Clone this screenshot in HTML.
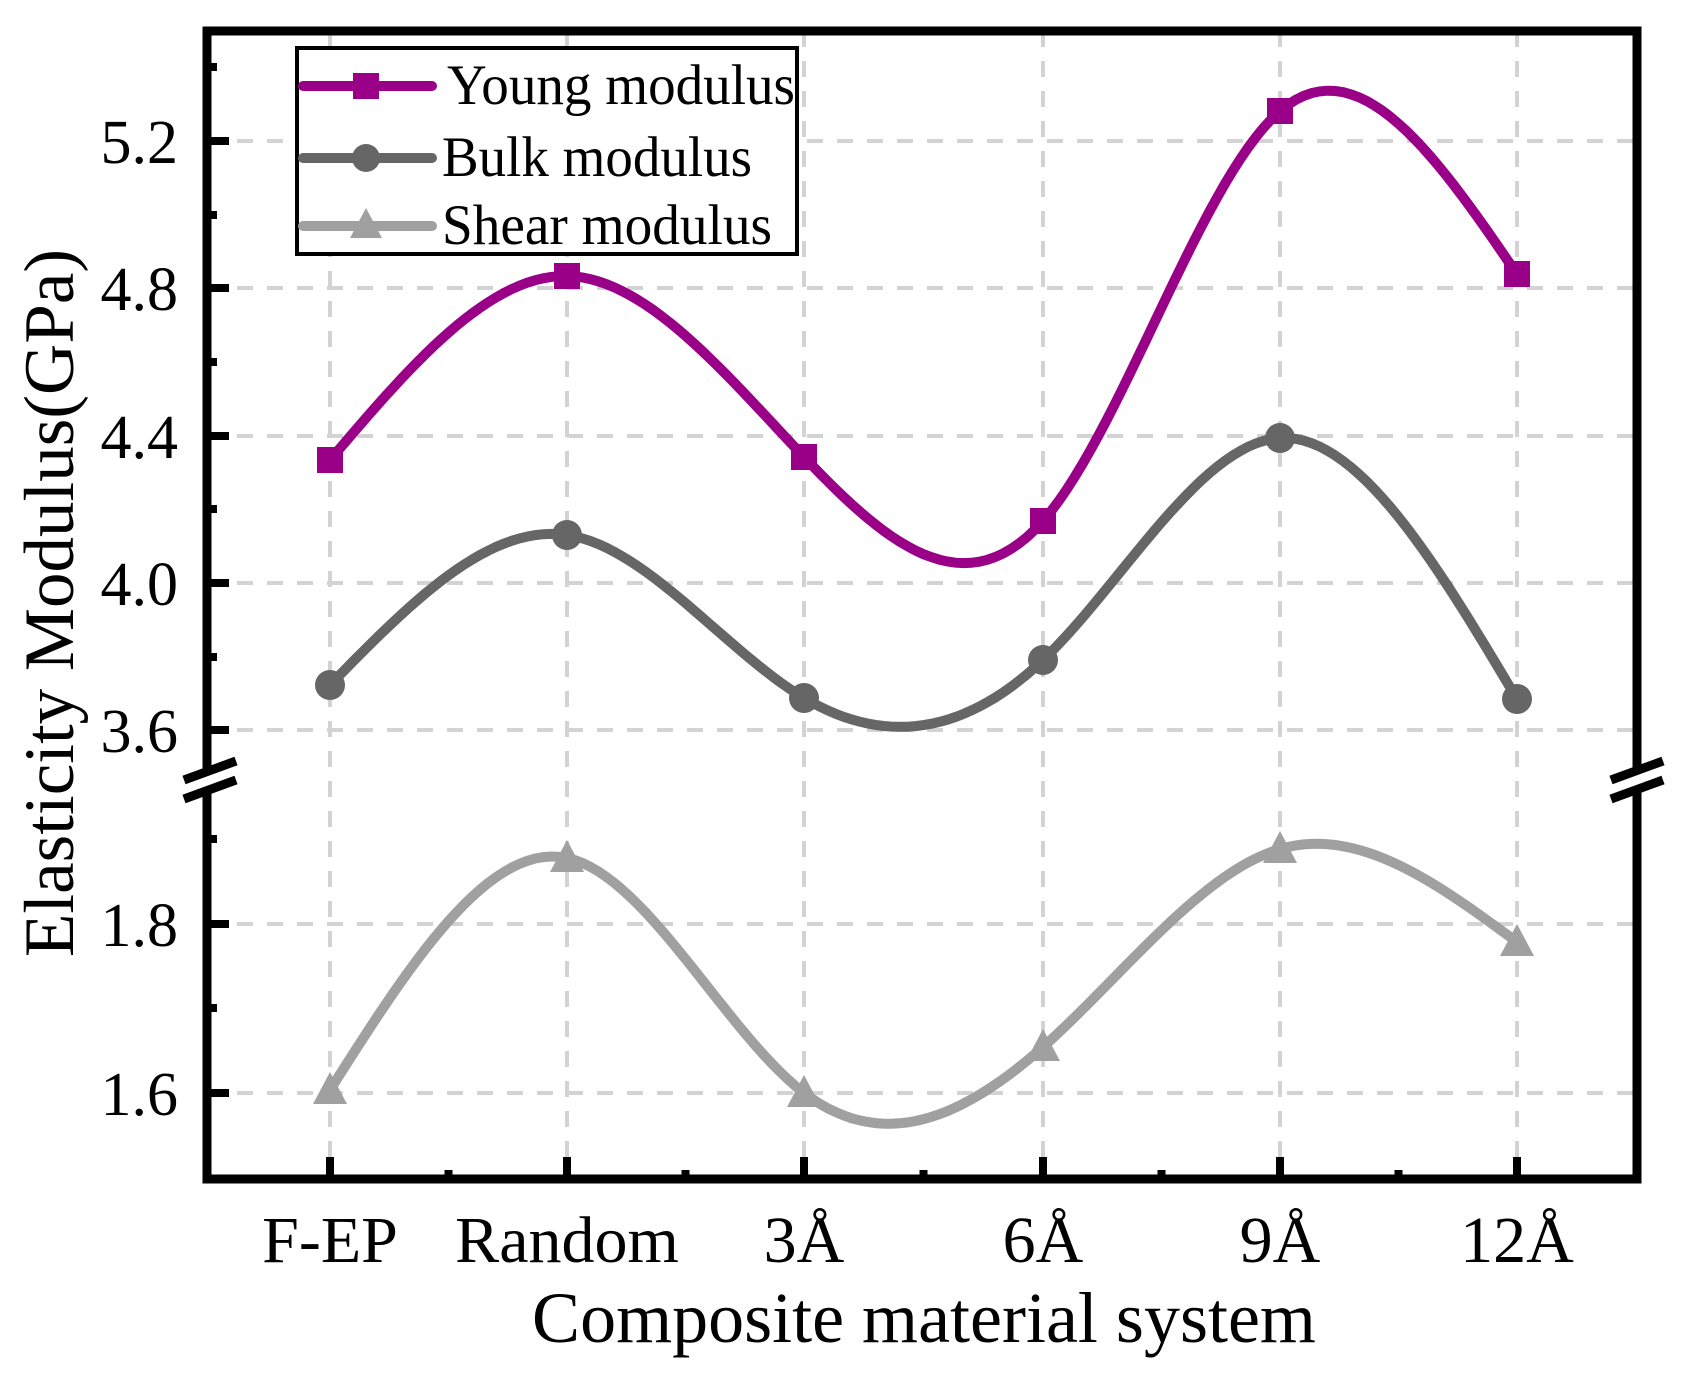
<!DOCTYPE html><html><head><style>body{margin:0;background:#fff}svg{display:block}text{font-family:"Liberation Serif",serif;fill:#000}</style></head><body>
<svg id="s" width="1685" height="1377" viewBox="0 0 1685 1377" xmlns="http://www.w3.org/2000/svg">
<rect width="1685" height="1377" fill="#fff"/>
<g stroke="#d3d3d3" stroke-width="4" stroke-dasharray="16,14" fill="none">
<path d="M207 141H1637M207 288H1637M207 436H1637M207 583H1637M207 730H1637M207 924H1637M207 1093H1637"/>
<path d="M330 31V1179M567 31V1179M804 31V1179M1043 31V1179M1280 31V1179M1517 31V1179"/>
</g>
<g id="curves"></g>
<rect x="207" y="31" width="1430" height="1148" fill="none" stroke="#000" stroke-width="9"/>
<g stroke="#000" stroke-width="8" id="ticks"></g>
<g>
<rect x="180" y="768" width="60" height="22" fill="#fff" transform="rotate(-20 210 779)"/>
<rect x="1610" y="768" width="60" height="22" fill="#fff" transform="rotate(-20 1640 779)"/>
<g stroke="#000" stroke-width="9"><line x1="184" y1="780" x2="236" y2="761"/><line x1="184" y1="799" x2="236" y2="780"/>
<line x1="1611" y1="780" x2="1663" y2="761"/><line x1="1611" y1="799" x2="1663" y2="780"/></g>
</g>
<g font-size="62" text-anchor="end">
<text x="178" y="163">5.2</text><text x="178" y="310">4.8</text><text x="178" y="458">4.4</text><text x="178" y="605">4.0</text><text x="178" y="752">3.6</text><text x="178" y="946">1.8</text><text x="178" y="1115">1.6</text>
</g>
<g font-size="66" text-anchor="middle">
<text x="330" y="1262">F-EP</text><text x="567" y="1262">Random</text><text x="804" y="1262">3Å</text><text x="1043" y="1262">6Å</text><text x="1280" y="1262">9Å</text><text x="1517" y="1262">12Å</text>
</g>
<text x="924" y="1342" font-size="72" text-anchor="middle">Composite material system</text>
<text transform="translate(73 603) rotate(-90)" font-size="71" text-anchor="middle">Elasticity Modulus(GPa)</text>
<rect x="297" y="48" width="500" height="206" fill="#fff" stroke="#000" stroke-width="4"/>
<g stroke-width="10" stroke-linecap="round">
<line x1="303" y1="86" x2="432" y2="86" stroke="#990087"/><rect x="353" y="73" width="26" height="26" fill="#990087"/>
<line x1="303" y1="158" x2="432" y2="158" stroke="#666"/><circle cx="366" cy="158" r="14" fill="#666"/>
<line x1="303" y1="226" x2="432" y2="226" stroke="#a0a0a0"/><polygon points="366,208 350,238 382,238" fill="#a0a0a0"/>
</g>
<g font-size="57"><text x="447" y="104" textLength="348" lengthAdjust="spacingAndGlyphs">Young modulus</text><text x="442" y="176" textLength="310" lengthAdjust="spacingAndGlyphs">Bulk modulus</text><text x="442" y="244" textLength="330" lengthAdjust="spacingAndGlyphs">Shear modulus</text></g>
</svg>
<script>
var X=[330,567,804,1043,1280,1517];
var S=[{c:"#990087",y:[460,276,457,521,111,274],m:"s"},{c:"#666",y:[685,535,698,660,438,699],m:"c"},{c:"#a0a0a0",y:[1090,858,1093,1047,849,942],m:"t"}];
function spline(y){var n=y.length,M=new Array(n).fill(0);
var m=n-2,A=[],B=[],C=[],D=[];for(var i=0;i<m;i++){A.push(1);B.push(4);C.push(1);D.push(6*(y[i]-2*y[i+1]+y[i+2]));}
for(var i=1;i<m;i++){var w=A[i]/B[i-1];B[i]-=w*C[i-1];D[i]-=w*D[i-1];}
var s=new Array(m);s[m-1]=D[m-1]/B[m-1];for(var i=m-2;i>=0;i--)s[i]=(D[i]-C[i]*s[i+1])/B[i];
for(var i=0;i<m;i++)M[i+1]=s[i];return M;}
var g=document.getElementById("curves"),out="";
S.forEach(function(se){var y=se.y,M=spline(y),p="M"+X[0]+" "+y[0];
for(var i=0;i<5;i++){for(var k=1;k<=30;k++){var t=k/30,u=1-t;
var v=u*y[i]+t*y[i+1]+((u*u*u-u)*M[i]+(t*t*t-t)*M[i+1])/6;p+="L"+(X[i]+t*(X[i+1]-X[i])).toFixed(1)+" "+v.toFixed(1);}}
out+='<path d="'+p+'" fill="none" stroke="'+se.c+'" stroke-width="10"/>';
for(var i=0;i<6;i++){var x=X[i],v=y[i];
if(se.m=="s")out+='<rect x="'+(x-13)+'" y="'+(v-13)+'" width="26" height="26" fill="'+se.c+'"/>';
else if(se.m=="c")out+='<circle cx="'+x+'" cy="'+v+'" r="15" fill="'+se.c+'"/>';
else out+='<polygon points="'+x+','+(v-18)+' '+(x-17)+','+(v+14)+' '+(x+17)+','+(v+14)+'" fill="'+se.c+'"/>';}});
g.innerHTML=out;
var t="";X.forEach(function(x){t+='<line x1="'+x+'" y1="1179" x2="'+x+'" y2="1157"/>';});
for(var i=0;i<5;i++){var x=(X[i]+X[i+1])/2;t+='<line x1="'+x+'" y1="1179" x2="'+x+'" y2="1170"/>';}
[141,288,436,583,730,924,1093].forEach(function(y){t+='<line x1="207" y1="'+y+'" x2="229" y2="'+y+'"/>';});
[67,215,362,509,657,839,1008].forEach(function(y){t+='<line x1="207" y1="'+y+'" x2="217" y2="'+y+'"/>';});
document.getElementById("ticks").innerHTML=t;
</script>
</body></html>
